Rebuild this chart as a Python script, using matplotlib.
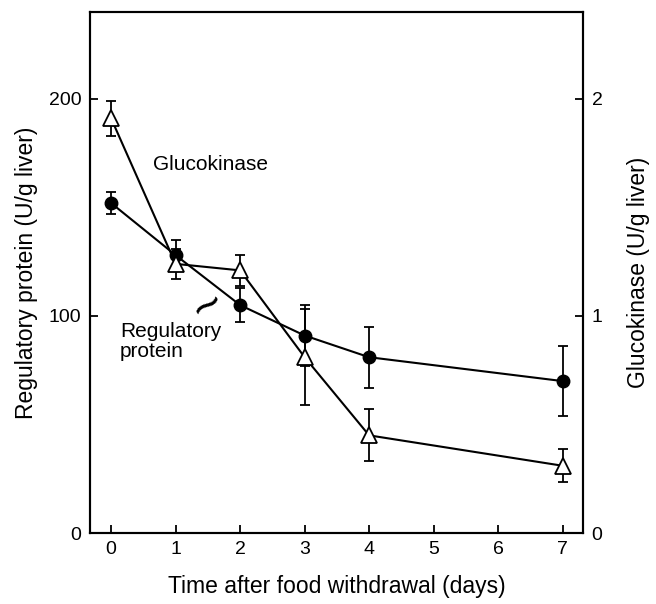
import matplotlib
matplotlib.use("Agg")
import matplotlib.pyplot as plt

plt.rcParams['font.family'] = ['Liberation Sans', 'DejaVu Sans']

# days after food withdrawal
days = [0, 1, 2, 3, 4, 7]

# regulatory protein (U/g liver), left axis
reg_protein = [152, 128, 105, 91, 81, 70]
reg_err = [5, 7, 8, 14, 14, 16]

# glucokinase (U/g liver), right axis
glucokinase = [1.91, 1.24, 1.21, 0.81, 0.45, 0.31]
gk_err = [0.08, 0.07, 0.07, 0.22, 0.12, 0.075]

xticks = [0, 1, 2, 3, 4, 5, 6, 7]

fig = plt.figure(figsize=(6.56, 6.04), dpi=100)
ax = fig.add_axes([0.137, 0.1175, 0.752, 0.8625])
ax2 = ax.twinx()

ax.errorbar(days, reg_protein, yerr=reg_err, color='black', marker='o',
            markersize=9, lw=1.5, elinewidth=1.3, capsize=3.5, capthick=1.3, zorder=3)
ax2.errorbar(days, glucokinase, yerr=gk_err, color='black', marker='^',
             markersize=11, markerfacecolor='white', markeredgewidth=1.3,
             lw=1.5, elinewidth=1.3, capsize=3.5, capthick=1.3, zorder=3)

ax.set_xlim(-0.33, 7.32)
ax.set_ylim(0, 240)
ax2.set_ylim(0, 2.4)
ax.set_xticks(xticks)
ax.set_yticks([0, 100, 200])
ax2.set_yticks([0, 1, 2])

for a in (ax, ax2):
    a.tick_params(direction='in', length=6, width=1.3, labelsize=14, pad=6)
    for s in a.spines.values():
        s.set_linewidth(1.5)

ax.set_xlabel('Time after food withdrawal (days)', fontsize=16.5, labelpad=12)
ax.set_ylabel('Regulatory protein (U/g liver)', fontsize=16.5, labelpad=8)
ax2.set_ylabel('Glucokinase (U/g liver)', fontsize=16.5, labelpad=18)

ax.text(0.65, 170, 'Glucokinase', fontsize=15, va='center', ha='left')
ax.text(0.14, 97, 'Regulatory\nprotein', fontsize=15, va='top', ha='left',
        linespacing=1.05)
ax.text(1.52, 104, '~', fontsize=36, rotation=35, ha='center', va='center')

fig.savefig('out.png', dpi=100)
